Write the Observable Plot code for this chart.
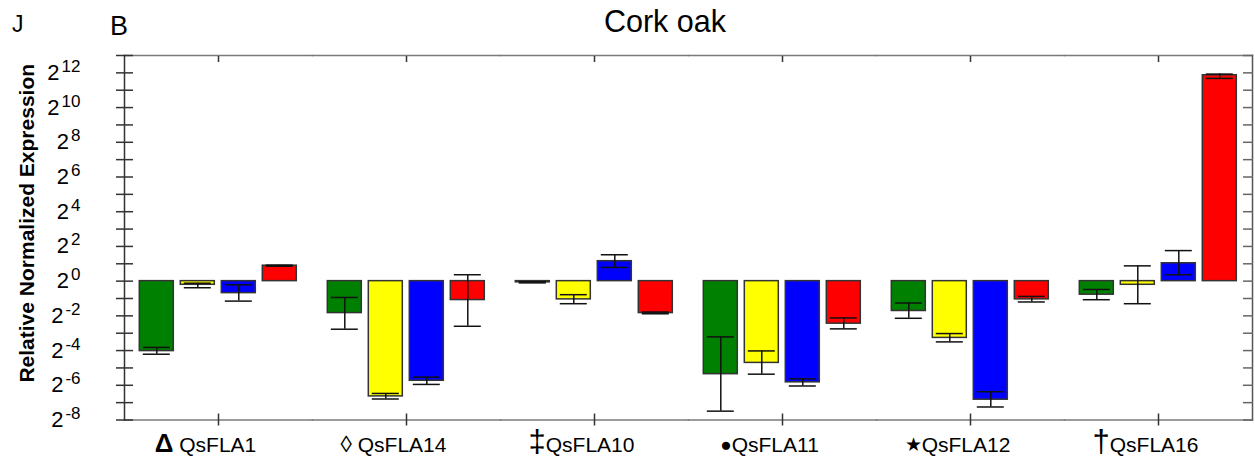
<!DOCTYPE html>
<html><head><meta charset="utf-8">
<script src="https://cdn.jsdelivr.net/npm/d3@7"></script>
<script src="https://cdn.jsdelivr.net/npm/@observablehq/plot@0.6"></script>
<style>
body{margin:0;background:#fff;font-family:"Liberation Sans",Arial,sans-serif;}
#wrap{position:relative;width:1255px;height:463px;overflow:hidden;}
#head{position:relative;height:40px;}
.h{position:absolute;line-height:1;color:#000;white-space:nowrap;}
#chart svg{display:block;overflow:visible;}
</style></head><body>
<div id="wrap">
<div id="head">
<div class="h" style="left:12px;top:13px;font-size:23px">J</div>
<div class="h" style="left:110px;top:13px;font-size:27px">B</div>
<div class="h" style="left:665px;top:6px;font-size:30.5px;transform:translateX(-50%)">Cork oak</div>
</div>
<div id="chart"></div>
</div>
<script>
// Genes (x categories) and their tick labels
const genes = ["QsFLA1", "QsFLA14", "QsFLA10", "QsFLA11", "QsFLA12", "QsFLA16"];
const geneLabels = ["Δ QsFLA1", "◊ QsFLA14", "‡QsFLA10", "●QsFLA11", "★QsFLA12", "†QsFLA16"];
// Four series (bar colours within each gene)
const conditions = ["S1", "S2", "S3", "S4"];
const colors = ["#008000", "#ffff00", "#0000ff", "#ff0000"];
// Relative normalized expression, as log2 exponents (one value per gene)
const meanS1 = [-4.03, -1.84, -0.07, -5.36, -1.72, -0.78];
const meanS2 = [-0.21, -6.64, -1.05, -4.71, -3.27, -0.21];
const meanS3 = [-0.69, -5.74, 1.15, -5.83, -6.83, 1.03];
const meanS4 = [0.89, -1.09, -1.84, -2.45, -1.05, 11.86];
// Error bar lower ends
const lowS1 = [-4.21, -2.77, -0.10, -7.49, -2.14, -1.07];
const lowS2 = [-0.38, -6.79, -1.30, -5.36, -3.50, -1.30];
const lowS3 = [-1.15, -5.95, 0.79, -6.04, -7.25, 0.37];
const lowS4 = [0.86, -2.60, -1.88, -2.75, -1.20, 11.68];
// Error bar upper ends
const highS1 = [-3.82, -0.94, -0.04, -3.21, -1.26, -0.48];
const highS2 = [-0.12, -6.47, -0.78, -4.02, -3.02, 0.88];
const highS3 = [-0.21, -5.53, 1.52, -5.63, -6.37, 1.76];
const highS4 = [0.92, 0.37, -1.78, -2.12, -0.88, 11.93];
// Y ticks (exponents of 2)
const yTicksAll = d3.range(-8, 14);
const yTicksLabeled = [-8, -6, -4, -2, 0, 2, 4, 6, 8, 10, 12];

const means = [meanS1, meanS2, meanS3, meanS4];
const lows = [lowS1, lowS2, lowS3, lowS4];
const highs = [highS1, highS2, highS3, highS4];
const rows = genes.flatMap((g, i) => conditions.map((c, j) => ({
  gene: g, cond: c, value: means[j][i], lo: lows[j][i], hi: highs[j][i]
})));

const chart = Plot.plot({
  width: 1255,
  height: 423,
  marginTop: 15,
  marginBottom: 43.5,
  marginLeft: 122.7,
  marginRight: 1.7,
  style: {fontFamily: '"Liberation Sans", Arial, sans-serif', fontSize: "21px", background: "#fff", color: "#000", overflow: "visible"},
  fx: {domain: genes, padding: 0, label: null},
  x: {domain: conditions, paddingInner: 0.167, paddingOuter: 0.326, axis: null},
  y: {domain: [-8, 13], label: null},
  color: {domain: conditions, range: colors},
  marks: [
    Plot.barY(rows, {fx: "gene", x: "cond", y: "value", fill: "cond", stroke: "#333", strokeWidth: 1.5}),
    Plot.ruleX(rows, {fx: "gene", x: "cond", y1: "lo", y2: "hi", stroke: "#111", strokeWidth: 1.5}),
    Plot.tickY(rows, {fx: "gene", x: "cond", y: "lo", stroke: "#111", strokeWidth: 1.5, insetLeft: 3.5, insetRight: 3.5}),
    Plot.tickY(rows, {fx: "gene", x: "cond", y: "hi", stroke: "#111", strokeWidth: 1.5, insetLeft: 3.5, insetRight: 3.5}),
    Plot.frame({anchor: "top", stroke: "#7a7a7a", strokeWidth: 1.5}),
    Plot.frame({anchor: "bottom", stroke: "#7a7a7a", strokeWidth: 1.5}),
    Plot.frame({anchor: "left", facetAnchor: "left", stroke: "#333", strokeWidth: 1.5}),
    Plot.frame({anchor: "right", facetAnchor: "right", stroke: "#555", strokeWidth: 1.5}),
    Plot.axisY(yTicksAll, {anchor: "left", tickSize: 17, insetLeft: 9, tickFormat: () => "", label: null, stroke: "#333", strokeWidth: 1.5}),
    Plot.axisY(yTicksLabeled, {anchor: "left", tickSize: 0, tickPadding: 44, tickFormat: d => `2^${d}`, label: null, fontSize: 22}),
    Plot.axisY(yTicksAll, {anchor: "right", tickSize: 10, insetRight: 10, tickFormat: () => "", label: null, stroke: "#666", strokeWidth: 1.5}),
    Plot.axisFx({anchor: "top", tickSize: 6, insetTop: 6, tickFormat: () => "", label: null, stroke: "#333", strokeWidth: 1.5}),
    Plot.axisFx({anchor: "bottom", tickSize: 12, insetBottom: 6, tickFormat: () => "", label: null, stroke: "#333", strokeWidth: 1.5}),
    Plot.axisFx({anchor: "bottom", tickSize: 0, tickPadding: 17, tickFormat: g => geneLabels[genes.indexOf(g)], label: null, fontSize: 21, dx: -13}),
    Plot.text(["Relative Normalized Expression"], {fx: () => genes[0], text: d => d, frameAnchor: "left", textAnchor: "middle", rotate: -90, dx: -97.2, dy: -14.5, fontWeight: "bold", fontSize: 21, fill: "#000"})
  ]
});

const ns = "http://www.w3.org/2000/svg";
// Render y tick labels as 2 with a raised exponent
chart.querySelectorAll('g[aria-label="y-axis tick label"] text').forEach(t => {
  const s = t.textContent;
  if (!s.includes("^")) return;
  const exp = s.split("^")[1].replace("−", "-");
  t.textContent = "";
  const base = document.createElementNS(ns, "tspan");
  base.textContent = "2";
  base.setAttribute("font-size", "22");
  const sup = document.createElementNS(ns, "tspan");
  sup.textContent = exp;
  sup.setAttribute("font-size", "17");
  sup.setAttribute("dy", "-8");
  sup.setAttribute("dx", "2");
  t.appendChild(base);
  t.appendChild(sup);
});

// Style the leading symbol of each gene label
const symbolStyle = {
  "Δ": {size: 26, weight: "bold", shift: 0},
  "◊": {size: 23, weight: "normal", shift: 0},
  "‡": {size: 31, weight: "normal", shift: 0},
  "●": {size: 19, weight: "normal", shift: -1},
  "★": {size: 19, weight: "normal", shift: -1},
  "†": {size: 31, weight: "normal", shift: 0}
};
chart.querySelectorAll('g[aria-label="fx-axis tick label"] text').forEach(t => {
  const s = t.textContent;
  if (!s) return;
  const sym = s[0];
  const st = symbolStyle[sym];
  if (!st) return;
  t.textContent = "";
  const a = document.createElementNS(ns, "tspan");
  a.textContent = sym;
  a.setAttribute("font-size", st.size);
  a.setAttribute("font-weight", st.weight);
  if (st.shift) a.setAttribute("dy", st.shift);
  const b = document.createElementNS(ns, "tspan");
  b.textContent = s.slice(1);
  if (st.shift) b.setAttribute("dy", -st.shift);
  t.appendChild(a);
  t.appendChild(b);
});

document.getElementById("chart").appendChild(chart);
</script>
</body></html>
